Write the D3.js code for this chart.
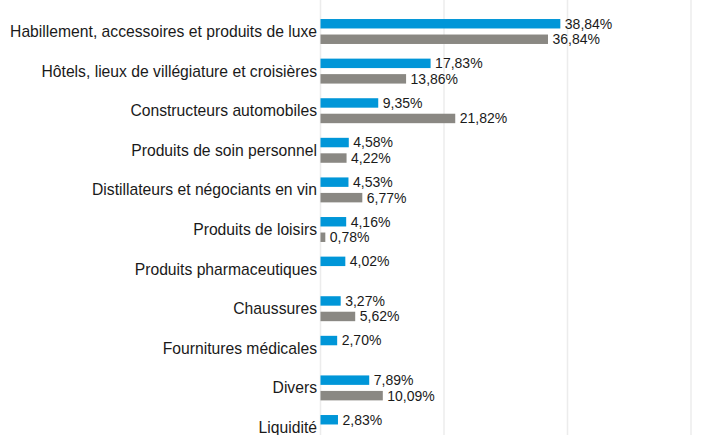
<!DOCTYPE html>
<html>
<head>
<meta charset="utf-8">
<script src="https://cdn.jsdelivr.net/npm/d3@7"></script>
<style>
  body { margin: 0; background: #fff; }
  text { font-family: "Liberation Sans", Arial, sans-serif; }
</style>
</head>
<body>
<div id="chart"></div>
<script>
const categories = [
  'Habillement, accessoires et produits de luxe',
  'Hôtels, lieux de villégiature et croisières',
  'Constructeurs automobiles',
  'Produits de soin personnel',
  'Distillateurs et négociants en vin',
  'Produits de loisirs',
  'Produits pharmaceutiques',
  'Chaussures',
  'Fournitures médicales',
  'Divers',
  'Liquidité'
];
const seriesA = [38.84, 17.83, 9.35, 4.58, 4.53, 4.16, 4.02, 3.27, 2.70, 7.89, 2.83];
const seriesB = [36.84, 13.86, 21.82, 4.22, 6.77, 0.78, null, 5.62, null, 10.09, null];
const xTicks = [0, 20, 40, 60];

const width = 707, height = 435;

const svg = d3.select('#chart')
  .append('svg')
  .attr('width', width)
  .attr('height', height);

const x = d3.scaleLinear()
  .domain([0, 60])
  .range([320.5, 691]);

const y0 = d3.scaleBand()
  .domain(categories)
  .range([11.7, 447.3])
  .paddingInner(0.37)
  .paddingOuter(0.185);

const y1 = d3.scaleBand()
  .domain(['a', 'b'])
  .range([0, y0.bandwidth()])
  .paddingInner(0.39);

// gridlines
svg.append('g')
  .selectAll('line')
  .data(xTicks)
  .join('line')
  .attr('x1', d => x(d))
  .attr('x2', d => x(d))
  .attr('y1', 0)
  .attr('y2', height)
  .attr('stroke', '#ececec')
  .attr('stroke-width', 1.5);

const rows = categories.map((c, i) => ({ cat: c, a: seriesA[i], b: seriesB[i] }));

const bars = [];
rows.forEach(r => {
  bars.push({ cat: r.cat, key: 'a', value: r.a });
  if (r.b !== null) bars.push({ cat: r.cat, key: 'b', value: r.b });
});

const colors = { a: '#0096d8', b: '#8a8883' };

svg.append('g')
  .selectAll('rect')
  .data(bars)
  .join('rect')
  .attr('x', x(0))
  .attr('y', d => y0(d.cat) + y1(d.key))
  .attr('width', d => x(d.value) - x(0))
  .attr('height', y1.bandwidth())
  .attr('fill', d => colors[d.key]);

svg.append('g')
  .selectAll('text')
  .data(bars)
  .join('text')
  .attr('x', d => x(d.value) + 4.5)
  .attr('y', d => y0(d.cat) + y1(d.key) + y1.bandwidth() / 2)
  .attr('dy', '0.35em')
  .attr('font-size', 14)
  .attr('fill', '#1a1a1a')
  .text(d => d.value.toFixed(2).replace('.', ',') + '%');

// category labels
svg.append('g')
  .selectAll('text')
  .data(categories)
  .join('text')
  .attr('x', 317)
  .attr('y', d => y0(d) + y0.bandwidth() / 2)
  .attr('dy', '0.35em')
  .attr('text-anchor', 'end')
  .attr('font-size', 15.7)
  .attr('fill', '#1a1a1a')
  .text(d => d);
</script>
</body>
</html>
